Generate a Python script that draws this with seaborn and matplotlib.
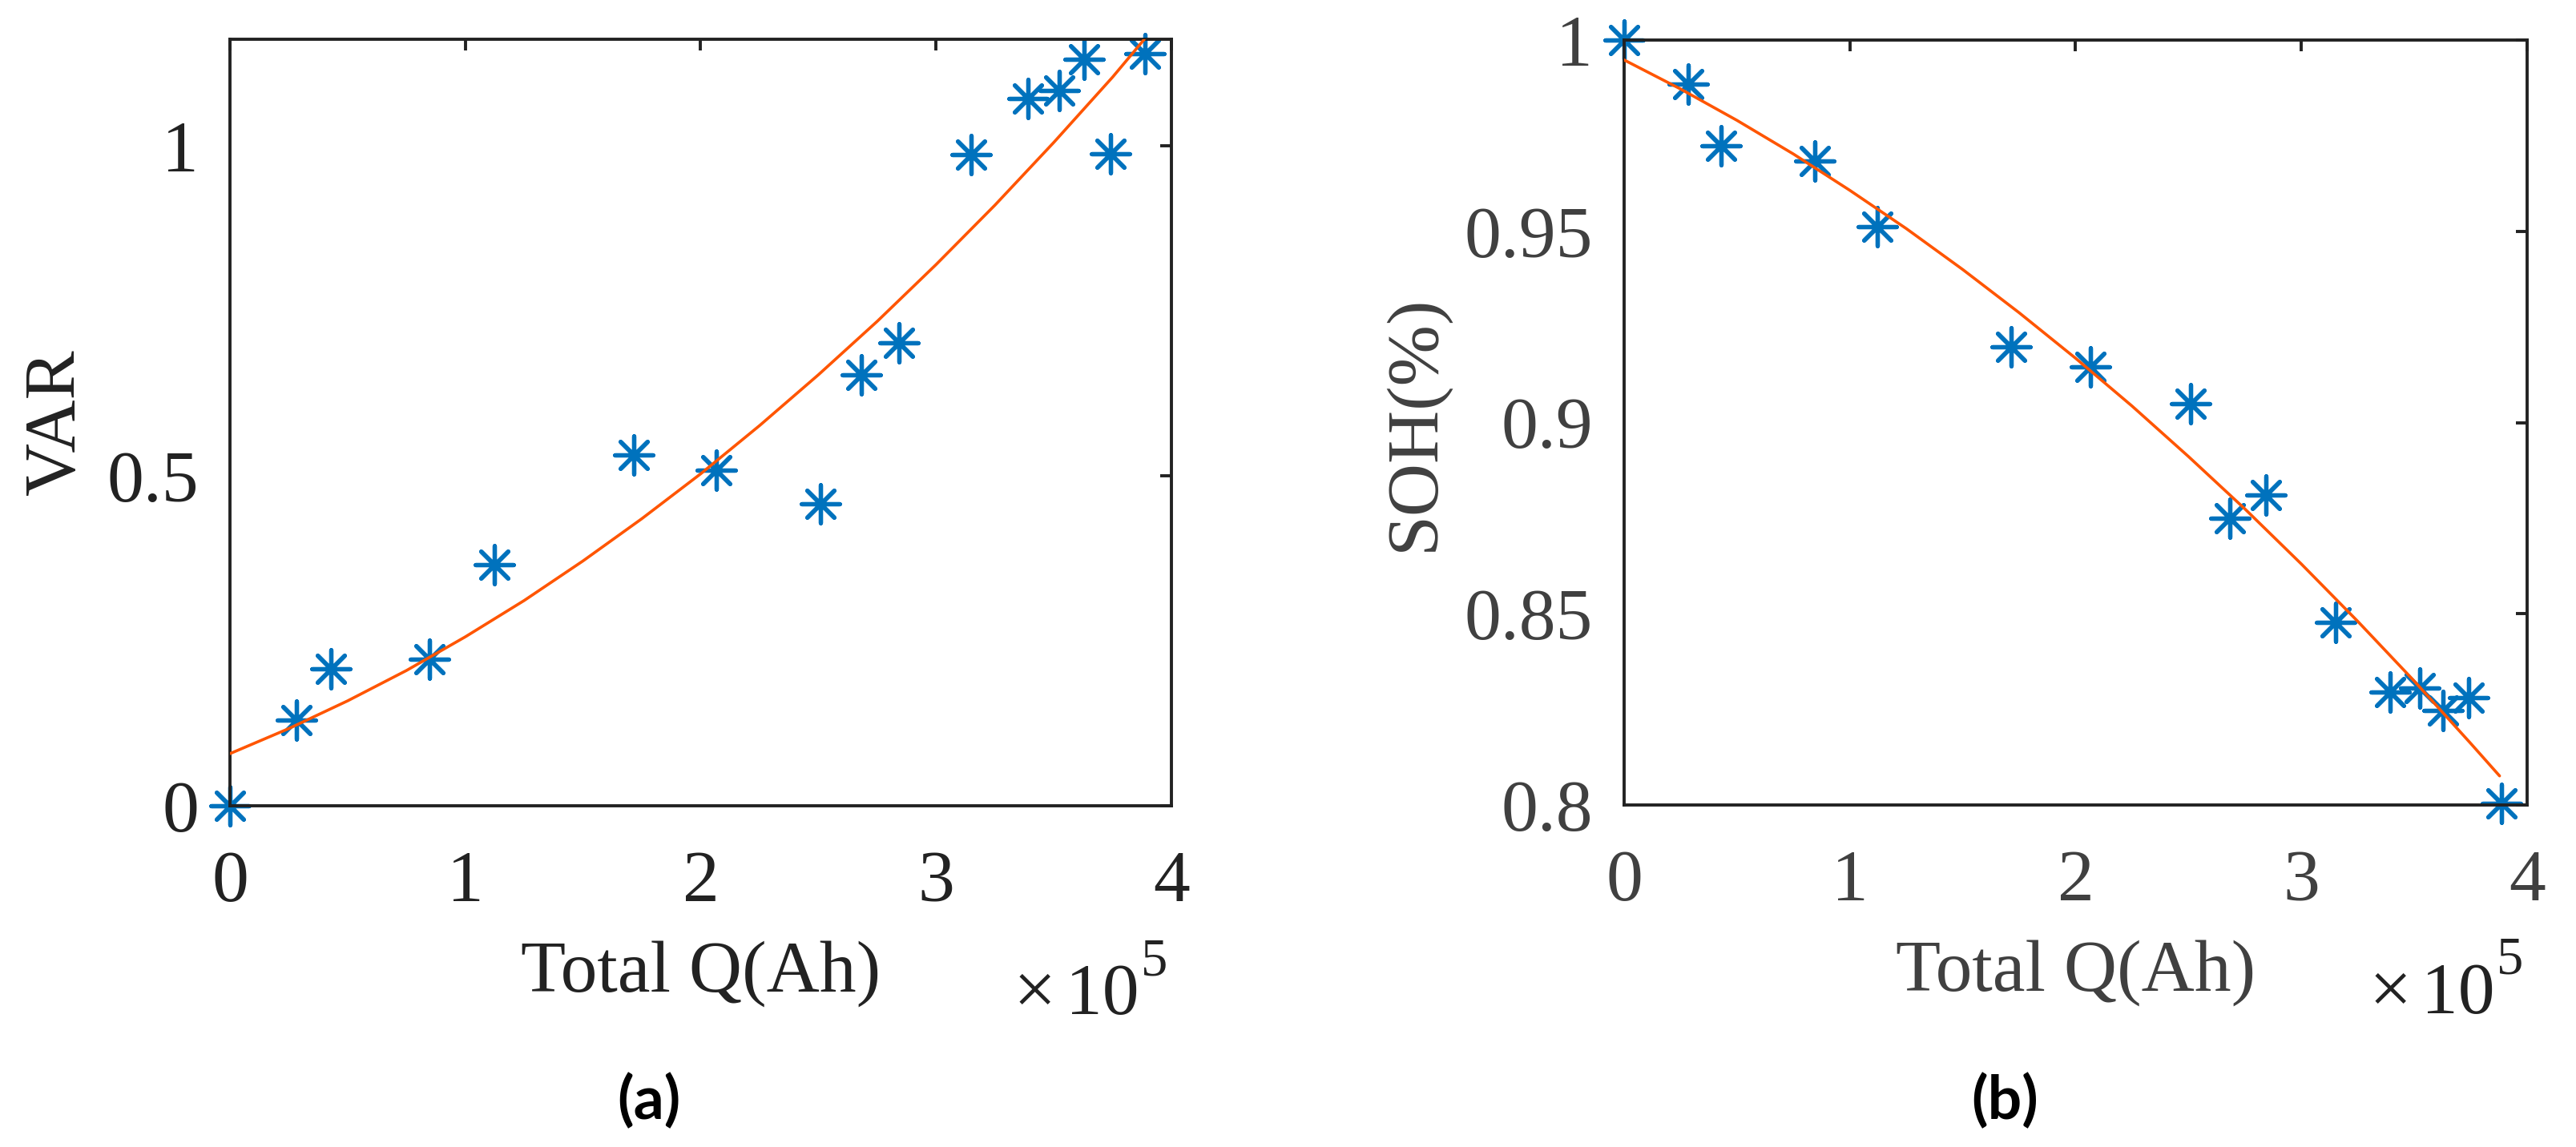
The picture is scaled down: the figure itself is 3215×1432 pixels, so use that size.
import matplotlib
matplotlib.use("Agg")
import matplotlib.pyplot as plt
import matplotlib.transforms as mtransforms
import numpy as np
import pandas as pd
import seaborn as sns

# ---------------- data ----------------
total_q = [0.0, 0.283, 0.428, 0.846, 1.123, 1.716, 2.066, 2.510, 2.684, 2.843,
           3.150, 3.392, 3.525, 3.628, 3.740, 3.888]          # x 1e5 Ah
var_values = [0.0, 0.130, 0.207, 0.222, 0.365, 0.531, 0.508, 0.458, 0.653, 0.701,
              0.987, 1.072, 1.084, 1.131, 0.988, 1.1395]
soh_values = [1.000, 0.9885, 0.9723, 0.9683, 0.9511, 0.9198, 0.9145, 0.9050, 0.8750,
              0.8810, 0.8477, 0.8296, 0.8305, 0.8248, 0.8281, 0.8005]

fit_q_var = [0.0, 0.25, 0.5, 0.75, 1.0, 1.25, 1.5, 1.75, 2.0, 2.25, 2.5, 2.75,
             3.0, 3.25, 3.5, 3.75, 3.884]
var_fit = [0.079, 0.117, 0.159, 0.205, 0.256, 0.311, 0.371, 0.435, 0.503, 0.576,
           0.653, 0.734, 0.820, 0.910, 1.005, 1.104, 1.161]
fit_q_soh = [0.0, 0.25, 0.5, 0.75, 1.0, 1.25, 1.5, 1.75, 2.0, 2.25, 2.5, 2.75,
             3.0, 3.25, 3.5, 3.75, 3.878]
soh_fit = [0.9948, 0.9872, 0.9790, 0.9702, 0.9607, 0.9507, 0.9400, 0.9287, 0.9168,
           0.9043, 0.8911, 0.8774, 0.8630, 0.8480, 0.8324, 0.8161, 0.8076]

x_ticks = [0, 1, 2, 3, 4]
x_tick_labels = ["0", "1", "2", "3", "4"]
var_ticks = [0, 0.5, 1]
var_tick_labels = ["0", "0.5", "1"]
soh_ticks = [0.8, 0.85, 0.9, 0.95, 1.0]
soh_tick_labels = ["0.8", "0.85", "0.9", "0.95", "1"]
x_label = "Total Q(Ah)"
var_label = "VAR"
soh_label = "SOH(%)"
panel_labels = ["(a)", "(b)"]

# ---------------- style ----------------
sns.set_style("white")
plt.rcParams["font.family"] = ["Liberation Serif", "DejaVu Serif"]

W, H, DPI = 3216, 1432, 200
fig = plt.figure(figsize=(W / DPI, H / DPI), dpi=DPI)

BLUE = "#0072BD"
ORANGE = "#FF5500"
DARK = "#222222"
ASTERISK = (8, 2, 0)


def rect(x0, y0, x1, y1):
    return [x0 / W, 1 - y1 / H, (x1 - x0) / W, (y1 - y0) / H]


def panel(ax, yvals, fitx, fity, ylim, yticks, ylabels, ylabel, txt_color,
          ylab_x, panel_label, panel_x):
    df = pd.DataFrame({"q": total_q, "v": yvals})
    sns.scatterplot(data=df, x="q", y="v", ax=ax, marker=ASTERISK, s=290,
                    color=BLUE, linewidth=1.9, clip_on=False, zorder=2.5,
                    legend=False)
    dfit = pd.DataFrame({"q": fitx, "v": fity})
    sns.lineplot(data=dfit, x="q", y="v", ax=ax, color=ORANGE, linewidth=1.3,
                 sort=False, estimator=None, zorder=3, legend=False)
    ax.set_xlim(0, 4)
    ax.set_ylim(*ylim)
    ax.set_xticks(x_ticks)
    ax.set_xticklabels(x_tick_labels)
    ax.set_yticks(yticks)
    ax.set_yticklabels(ylabels)
    ax.tick_params(axis="both", which="both", direction="in", length=5,
                   width=1.4, color=DARK, labelsize=33, labelcolor=txt_color,
                   top=True, right=True)
    ax.tick_params(axis="x", pad=20)
    ax.tick_params(axis="y", pad=14)
    for sp in ax.spines.values():
        sp.set_visible(True)
        sp.set_linewidth(1.4)
        sp.set_color(DARK)
    ax.grid(False)
    ax.set_xlabel(x_label, fontsize=33, color=txt_color)
    ax.set_ylabel(ylabel, fontsize=33, color=txt_color)
    ax.xaxis.set_label_coords(0.5, 0, transform=mtransforms.offset_copy(
        ax.transAxes, fig=fig, x=0, y=-232, units="dots"))
    ax.xaxis.label.set_va("baseline")
    ax.yaxis.label.set_va("baseline")
    ax.yaxis.set_label_coords(ylab_x, 0.5)

    def off(dx, dy):
        return mtransforms.offset_copy(ax.transAxes, fig=fig, x=dx, y=dy,
                                       units="dots")
    ax.text(1, 0, "\u00d7", transform=off(-144, -260), ha="right",
            va="baseline", fontsize=34, color=DARK)
    ax.text(1, 0, "10", transform=off(-40, -260), ha="right",
            va="baseline", fontsize=33, color=DARK)
    ax.text(1, 0, "5", transform=off(-5, -211), ha="right",
            va="baseline", fontsize=24, color=DARK)
    fig.text(panel_x / W, 1 - 1397 / H, panel_label, ha="center",
             va="baseline", fontsize=27, fontweight="bold", color="black",
             family=["Lato", "DejaVu Sans"])


ax1 = fig.add_axes(rect(287, 49, 1462, 1006))
ax2 = fig.add_axes(rect(2027, 50, 3154, 1005))

panel(ax1, var_values, fit_q_var, var_fit, (0, 1.1614), var_ticks,
      var_tick_labels, var_label, DARK, (93 - 287) / 1175,
      panel_labels[0], 810)
panel(ax2, soh_values, fit_q_soh, soh_fit, (0.8, 1.0), soh_ticks,
      soh_tick_labels, soh_label, "#404040", (1788 - 2027) / 1127,
      panel_labels[1], 2502)

fig.savefig("out.png", dpi=DPI, facecolor="white")
